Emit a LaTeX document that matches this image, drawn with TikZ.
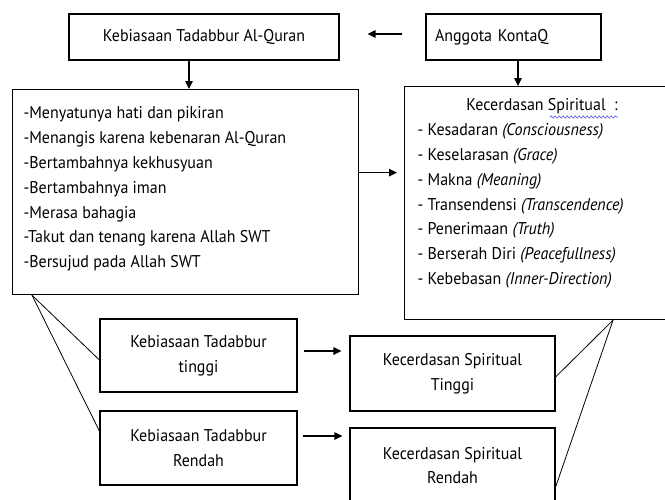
\documentclass[tikz,border=0pt]{standalone}
\usepackage{fontspec}
\setmainfont[FakeStretch=0.94]{PT Sans}
\usetikzlibrary{arrows.meta,decorations.pathmorphing}

\begin{document}
\begin{tikzpicture}[x=1pt, y=-1pt,
    font=\fontsize{17pt}{24.8pt}\selectfont,
    box/.style={draw, line width=1.2pt, inner sep=0pt, align=center},
    listbox/.style={draw, line width=1.2pt, inner ysep=0pt, anchor=north west},
    arr/.style={-{Triangle[length=8pt, width=7.5pt]}, line width=1.2pt},
    link/.style={line width=0.8pt},
    squiggle/.style={draw=blue!70, line width=0.6pt, decorate,
      decoration={snake, amplitude=1.1pt, segment length=4pt}}
  ]
  \useasboundingbox (0,0) rectangle (665,499);

  % baris atas
  \node[box, minimum width=270pt, minimum height=46pt] (tadabbur) at (204,37) {Kebiasaan Tadabbur Al-Quran};
  \node[box, minimum width=175pt, minimum height=46pt, text width=157pt, align=left] (anggota) at (513.5,37) {Anggota KontaQ};

  % indikator dan kecerdasan spiritual
  \node[listbox, inner xsep=11pt] (indikator) at (12,89) {\parbox[c][205pt][t]{324pt}{\raggedright\vspace*{12pt}\strut
    -Menyatunya hati dan pikiran\\
    -Menangis karena kebenaran Al-Quran\\
    -Bertambahnya kekhusyuan\\
    -Bertambahnya iman\\
    -Merasa bahagia\\
    -Takut dan tenang karena Allah SWT\\
    -Bersujud pada Allah SWT}};
  \node[listbox, inner xsep=13pt] (spiritual) at (404,86) {\parbox[c][233pt][t]{249pt}{\raggedright\vspace*{7pt}\strut
    \makebox[249pt]{Kecerdasan Spiritual \ :}\\
    - Kesadaran \textit{(Consciousness)}\\
    - Keselarasan \textit{(Grace)}\\
    - Makna \textit{(Meaning)}\\
    - Transendensi \textit{(Transcendence)}\\
    - Penerimaan \textit{(Truth)}\\
    - Berserah Diri \textit{(Peacefullness)}\\
    - Kebebasan \textit{(Inner-Direction)}}};

  % tingkatan
  \node[box, minimum width=197pt, minimum height=73pt] (ktTinggi) at (198.5,355.5) {Kebiasaan Tadabbur\\tinggi};
  \node[box, minimum width=197pt, minimum height=74pt] (ktRendah) at (198.5,448) {Kebiasaan Tadabbur\\Rendah};
  \node[box, minimum width=205pt, minimum height=75pt] (ksTinggi) at (452.5,373.5) {Kecerdasan Spiritual\\Tinggi};
  \node[box, minimum width=205pt, minimum height=75pt] (ksRendah) at (452.5,465.5) {Kecerdasan Spiritual\\Rendah};

  \draw[arr, shorten <=23pt, shorten >=28pt] ([yshift=3pt]anggota.west) -- ([yshift=3pt]tadabbur.east);
  \draw[arr] ([xshift=-15pt]tadabbur.south) -- ([xshift=-15pt]tadabbur.south |- indikator.north);
  \draw[arr] ([xshift=4.5pt]anggota.south) -- ([xshift=4.5pt]anggota.south |- spiritual.north);
  \draw[arr, shorten >=7pt] ([yshift=19.5pt]indikator.east) -- ([yshift=19.5pt]indikator.east -| spiritual.west);
  \draw[arr, shorten <=6pt, shorten >=8pt] ([yshift=4.5pt]ktTinggi.east) -- ([yshift=4.5pt]ktTinggi.east -| ksTinggi.west);
  \draw[arr, shorten <=5pt, shorten >=7pt] ([yshift=12pt]ktRendah.east) -- ([yshift=12pt]ktRendah.east -| ksRendah.west);

  \coordinate (cFoot) at ([xshift=20pt]indikator.south west);
  \coordinate (sFoot) at ([xshift=209pt]spiritual.south west);
  \draw[link] (cFoot) -- ([yshift=-4.5pt]ktTinggi.west);
  \draw[link] (cFoot) -- ([yshift=17pt]ktRendah.west);
  \draw[link] (sFoot) -- ([yshift=-3.5pt]ksTinggi.east);
  \draw[link] (sFoot) -- ([yshift=-21.5pt]ksRendah.east);

  \draw[squiggle] ([shift={(146,31)}]spiritual.north west) -- ++(68,0);
\end{tikzpicture}
\end{document}
